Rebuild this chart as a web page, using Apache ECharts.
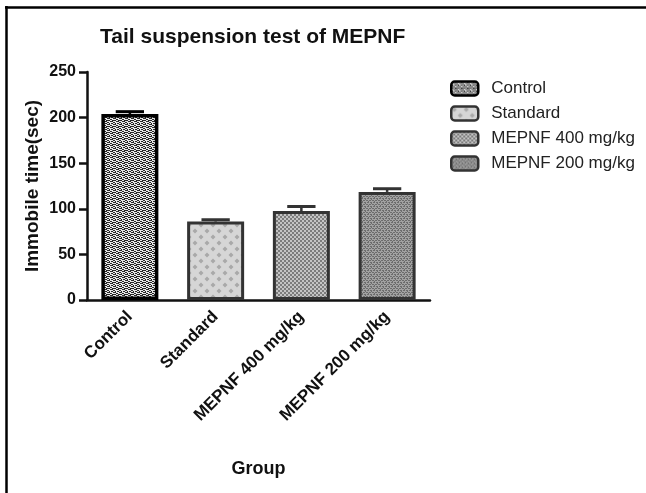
<!DOCTYPE html>
<html>
<head>
<meta charset="utf-8">
<script src="https://cdn.jsdelivr.net/npm/echarts@6/dist/echarts.min.js"></script>
<style>html,body{margin:0;padding:0;background:#fff}#c{width:646px;height:493px}</style>
</head>
<body>
<div id="c"></div>
<script>
var categories = ['Control', 'Standard', 'MEPNF 400 mg/kg', 'MEPNF 200 mg/kg'];
var means = [204, 86, 97.5, 118.5];
var sems = [2.5, 2, 5, 3.5];
var yTicks = [0, 50, 100, 150, 200, 250];

var FONT = 'Arial, "Liberation Sans", sans-serif';

function makePattern(kind) {
  var c = document.createElement('canvas');
  var ctx = c.getContext('2d');
  if (kind === 0) {
    c.width = 6; c.height = 6;
    ctx.fillStyle = '#e8e8e8'; ctx.fillRect(0, 0, 6, 6);
    ctx.fillStyle = '#262626';
    ctx.fillRect(0, 0, 2, 1); ctx.fillRect(2, 1, 2, 1); ctx.fillRect(4, 0, 2, 1);
    ctx.fillRect(3, 3, 2, 1); ctx.fillRect(5, 4, 1, 1); ctx.fillRect(0, 4, 1, 1); ctx.fillRect(1, 3, 1, 1);
    ctx.fillRect(0, 2, 1, 1); ctx.fillRect(3, 5, 1, 1); ctx.fillRect(4, 1, 1, 1); ctx.fillRect(1, 4, 1, 1);
    ctx.fillRect(2, 5, 1, 1); ctx.fillRect(5, 2, 1, 1);
  } else if (kind === 1) {
    c.width = 12; c.height = 12;
    ctx.fillStyle = '#d6d6d6'; ctx.fillRect(0, 0, 12, 12);
    ctx.fillStyle = '#a9a9a9';
    function dia(x, y) {
      ctx.beginPath(); ctx.moveTo(x, y - 2.5); ctx.lineTo(x + 2.5, y); ctx.lineTo(x, y + 2.5); ctx.lineTo(x - 2.5, y); ctx.closePath(); ctx.fill();
    }
    dia(3, 3); dia(9, 9); dia(15, 3); dia(-3, 9); dia(3, 15); dia(9, -3);
  } else if (kind === 2) {
    c.width = 4; c.height = 4;
    ctx.fillStyle = '#c4c4c4'; ctx.fillRect(0, 0, 4, 4);
    ctx.fillStyle = '#7c7c7c';
    ctx.fillRect(0, 0, 2, 2); ctx.fillRect(2, 2, 2, 2);
  } else {
    c.width = 6; c.height = 4;
    ctx.fillStyle = '#a2a2a2'; ctx.fillRect(0, 0, 6, 4);
    ctx.fillStyle = '#6c6c6c';
    ctx.fillRect(0, 0, 2, 1); ctx.fillRect(3, 0, 2, 1); ctx.fillRect(1, 2, 2, 1); ctx.fillRect(4, 2, 2, 1);
    ctx.fillRect(2, 1, 1, 1); ctx.fillRect(5, 3, 1, 1);
  }
  return { image: c, repeat: 'repeat' };
}

var borderColors = ['#000000', '#333333', '#333333', '#333333'];
var borderWidths = [3.5, 3, 3, 3];

var series = categories.map(function (name, i) {
  var d = categories.map(function (_, j) { return j === i ? means[j] : '-'; });
  return {
    name: name,
    type: 'bar',
    data: d,
    barWidth: 57,
    barGap: '-100%',
    itemStyle: {
      color: makePattern(i),
      borderColor: borderColors[i],
      borderWidth: borderWidths[i]
    },
    emphasis: { disabled: true },
    animation: false
  };
});

series.push({
  type: 'custom',
  name: 'sem',
  z: 5,
  animation: false,
  data: categories.map(function (_, i) { return [i, means[i], means[i] + sems[i]]; }),
  renderItem: function (params, api) {
    var i = api.value(0);
    var base = api.coord([i, api.value(1)]);
    var top = api.coord([i, api.value(2)]);
    var hw = api.size([1, 0])[0] * 0.165;
    var col = i === 0 ? '#000' : '#333';
    return {
      type: 'group',
      children: [
        { type: 'line', shape: { x1: base[0], y1: base[1], x2: top[0], y2: top[1] }, style: { stroke: col, lineWidth: 2.5 } },
        { type: 'line', shape: { x1: top[0] - hw, y1: top[1], x2: top[0] + hw, y2: top[1] }, style: { stroke: col, lineWidth: 3 } }
      ]
    };
  }
});

var chart = echarts.init(document.getElementById('c'), null, { renderer: 'canvas' });
chart.setOption({
  backgroundColor: '#ffffff',
  animation: false,
  title: {
    text: 'Tail suspension test of MEPNF',
    left: 100,
    top: 27,
    padding: 0,
    textStyle: { fontFamily: FONT, fontSize: 21, fontWeight: 'bold', color: '#111' }
  },
  legend: {
    data: categories,
    orient: 'vertical',
    left: 445,
    top: 75,
    itemWidth: 27,
    itemHeight: 14,
    itemGap: 8,
    icon: 'roundRect',
    itemStyle: { borderWidth: 2.5 },
    textStyle: { fontFamily: FONT, fontSize: 17, color: '#222', padding: [0, 0, 0, 8] },
    selectedMode: false
  },
  grid: { left: 87, right: 216, top: 72, bottom: 193, containLabel: false },
  xAxis: {
    type: 'category',
    data: categories,
    name: 'Group',
    nameLocation: 'middle',
    nameGap: 160,
    nameMoveOverlap: false,
    nameTextStyle: { fontFamily: FONT, fontSize: 18, fontWeight: 'bold', color: '#111' },
    axisLine: { lineStyle: { color: '#111', width: 2.5 } },
    axisTick: { alignWithLabel: true, length: 7, lineStyle: { color: '#111', width: 2.5 } },
    axisLabel: { rotate: 45, margin: 14, fontFamily: FONT, fontSize: 17, fontWeight: 'bold', color: '#111' }
  },
  yAxis: {
    type: 'value',
    min: yTicks[0],
    max: yTicks[yTicks.length - 1],
    interval: yTicks[1] - yTicks[0],
    name: 'Immobile time(sec)',
    nameLocation: 'middle',
    nameGap: 45,
    nameMoveOverlap: false,
    nameTextStyle: { fontFamily: FONT, fontSize: 19, fontWeight: 'bold', color: '#111' },
    splitLine: { show: false },
    axisLine: { show: true, lineStyle: { color: '#111', width: 2.5 } },
    axisTick: { show: true, length: 8, lineStyle: { color: '#111', width: 2.5 } },
    axisLabel: { margin: 11, fontFamily: FONT, fontSize: 16, fontWeight: 'bold', color: '#111' }
  },
  graphic: [
    { type: 'line', shape: { x1: 5, y1: 7.5, x2: 646, y2: 7.5 }, style: { stroke: '#000', lineWidth: 2.5 } },
    { type: 'line', shape: { x1: 6.5, y1: 6, x2: 6.5, y2: 493 }, style: { stroke: '#000', lineWidth: 2.5 } }
  ],
  series: series
});
</script>
</body>
</html>
